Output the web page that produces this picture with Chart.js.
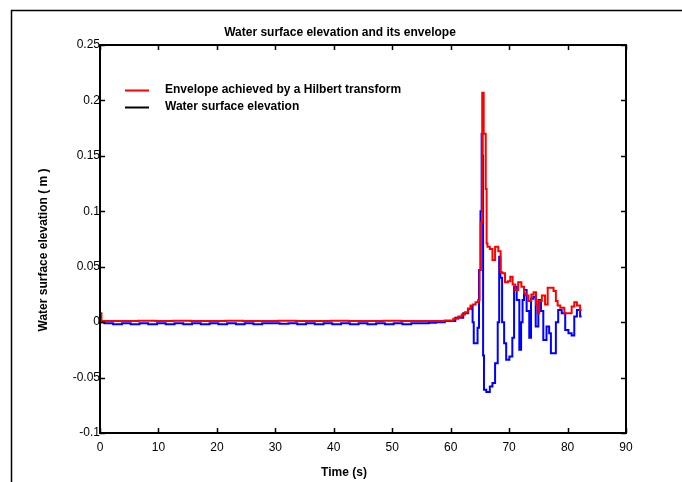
<!DOCTYPE html>
<html>
<head>
<meta charset="utf-8">
<script src="https://cdn.jsdelivr.net/npm/chart.js@4/dist/chart.umd.min.js"></script>
<style>
html,body{margin:0;padding:0;background:#fff;}
#wrap{position:absolute;left:0;top:0;width:682px;height:482px;}
</style>
</head>
<body>
<div id="wrap"><canvas id="c" width="682" height="482"></canvas></div>
<script>
const chartTitle = "Water surface elevation and its envelope";
const xTitle = "Time (s)";
const yTitle = "Water surface elevation ( m )";
const seriesNames = ["Envelope achieved by a Hilbert transform", "Water surface elevation"];
const xTicks = [0, 10, 20, 30, 40, 50, 60, 70, 80, 90];
const yTicks = [-0.1, -0.05, 0, 0.05, 0.1, 0.15, 0.2, 0.25];

const envT = [0, 0.2, 0.3, 2, 5, 8, 11, 14, 17, 20, 23, 26, 29, 32, 35, 38, 41, 44, 47, 50, 53, 56, 58, 59.9, 61, 61.6, 62.2, 62.7, 63.2, 63.6, 64.0, 64.5, 64.9, 65.0, 65.3, 65.5, 65.6, 65.7, 65.9, 66.1, 66.2, 66.4, 67.0, 67.3, 67.9, 68.4, 68.7, 69.0, 69.6, 70.0, 70.4, 70.8, 71.3, 71.8, 72.4, 72.7, 73.0, 73.6, 74.0, 74.4, 74.8, 75.0, 75.3, 75.9, 76.4, 76.8, 77.3, 77.9, 78.1, 78.5, 79.0, 79.9, 80.4, 81.0, 81.3, 81.9, 82.4];
const envY = [0.008, 0.008, 0.001, 0.001, 0.001, 0.0012, 0.001, 0.0012, 0.001, 0.001, 0.0012, 0.001, 0.001, 0.0012, 0.001, 0.001, 0.0012, 0.001, 0.001, 0.0012, 0.001, 0.001, 0.001, 0.0015, 0.003, 0.005, 0.007, 0.009, 0.012, 0.015, 0.016, 0.018, 0.02, 0.047, 0.09, 0.207, 0.207, 0.17, 0.17, 0.12, 0.071, 0.068, 0.066, 0.056, 0.068, 0.064, 0.045, 0.044, 0.036, 0.037, 0.041, 0.034, 0.029, 0.036, 0.032, 0.026, 0.024, 0.019, 0.025, 0.027, 0.016, 0.008, 0.019, 0.024, 0.016, 0.031, 0.031, 0.028, 0.019, 0.015, 0.013, 0.008, 0.008, 0.014, 0.018, 0.015, 0.011];

const wseT = [0, 1.5, 3, 4.5, 6, 7.5, 9, 10.5, 12, 13.5, 15, 16.5, 18, 19.5, 21, 22.5, 24, 25.5, 27, 28.5, 30, 31.5, 33, 34.5, 36, 37.5, 39, 40.5, 42, 43.5, 45, 46.5, 48, 49.5, 51, 52.5, 54, 55.5, 57, 58, 60, 61.6, 62.7, 63.3, 63.6, 63.9, 64.0, 64.5, 64.7, 65.0, 65.2, 65.4, 65.5, 65.6, 65.8, 66.4, 67.0, 67.3, 67.9, 68.2, 68.4, 68.6, 69.0, 69.3, 69.7, 70.4, 70.7, 71.0, 71.6, 71.9, 72.2, 72.4, 72.7, 73.3, 73.6, 73.9, 74.4, 74.7, 75.3, 75.6, 76.1, 76.7, 77.0, 77.3, 77.9, 78.1, 78.7, 79.3, 79.9, 80.4, 81.0, 81.3, 81.9, 82.4];
const wseY = [0, -0.001, -0.002, -0.001, -0.002, -0.001, -0.002, -0.001, -0.002, -0.001, -0.002, -0.001, -0.002, -0.001, -0.002, -0.001, -0.002, -0.001, -0.002, -0.001, -0.001, -0.0015, -0.001, -0.002, -0.001, -0.002, -0.001, -0.002, -0.001, -0.002, -0.001, -0.002, -0.001, -0.002, -0.001, -0.002, -0.001, -0.001, -0.0005, 0, 0.001, 0.004, 0.008, 0.012, 0.014, 0.0, -0.019, -0.019, -0.005, 0.047, 0.10, 0.170, 0.15, -0.03, -0.061, -0.063, -0.058, -0.055, -0.037, 0.0, 0.059, 0.04, 0.0, -0.019, -0.034, -0.031, -0.014, 0.032, 0.02, -0.025, 0.0, 0.02, 0.029, 0.01, -0.014, 0.021, 0.023, -0.004, 0.02, 0.01, -0.016, -0.004, -0.01, -0.028, -0.028, 0.0, 0.011, 0.008, -0.007, -0.01, -0.012, 0.005, 0.011, 0.005];

const FONT = "'Liberation Sans', Arial, sans-serif";

const decor = {
  id: 'decor',
  beforeDraw(chart) {
    const ctx = chart.ctx;
    ctx.save();
    ctx.fillStyle = '#fff';
    ctx.fillRect(0, 0, chart.width, chart.height);
    ctx.strokeStyle = '#000';
    ctx.lineWidth = 1.5;
    ctx.strokeRect(11.5, 10.5, 720, 520);
    ctx.restore();
  },
  afterDraw(chart) {
    const ctx = chart.ctx;
    const a = chart.chartArea;
    const xs = chart.scales.x, ys = chart.scales.y;
    ctx.save();
    ctx.strokeStyle = '#000';
    ctx.lineWidth = 2;
    ctx.strokeRect(a.left, a.top, a.right - a.left, a.bottom - a.top);
    ctx.lineWidth = 1.5;
    const tl = 5;
    ctx.beginPath();
    xTicks.forEach(v => {
      const px = Math.round(xs.getPixelForValue(v)) + 0.5;
      ctx.moveTo(px, a.bottom); ctx.lineTo(px, a.bottom - tl);
      ctx.moveTo(px, a.top); ctx.lineTo(px, a.top + tl);
    });
    yTicks.forEach(v => {
      const py = Math.round(ys.getPixelForValue(v)) + 0.5;
      ctx.moveTo(a.left, py); ctx.lineTo(a.left + tl, py);
      ctx.moveTo(a.right, py); ctx.lineTo(a.right - tl, py);
    });
    ctx.stroke();

    ctx.fillStyle = '#000';
    ctx.font = 'bold 12px ' + FONT;
    ctx.textAlign = 'center';
    ctx.textBaseline = 'middle';
    ctx.fillText(chartTitle, 340, 33);
    ctx.fillText(xTitle, 344, 473);
    ctx.save();
    ctx.translate(44, 250);
    ctx.rotate(-Math.PI / 2);
    ctx.fillText(yTitle, 0, 0);
    ctx.restore();

    // legend
    const colors = ['#ff0000', '#000000'];
    const ly = [90, 107];
    ctx.textAlign = 'left';
    seriesNames.forEach((n, i) => {
      ctx.strokeStyle = colors[i];
      ctx.lineWidth = 2;
      ctx.beginPath();
      ctx.moveTo(125, ly[i] + 0.5); ctx.lineTo(149, ly[i] + 0.5);
      ctx.stroke();
      ctx.fillStyle = '#000';
      ctx.fillText(n, 165, ly[i]);
    });
    ctx.restore();
  }
};

new Chart(document.getElementById('c'), {
  type: 'line',
  data: {
    datasets: [
      {
        label: seriesNames[0],
        data: envT.map((t, i) => ({ x: t, y: envY[i] })),
        borderColor: '#ff0000',
        borderWidth: 2,
        pointRadius: 0,
        stepped: 'middle',
        fill: false
      },
      {
        label: seriesNames[1],
        data: wseT.map((t, i) => ({ x: t, y: wseY[i] })),
        borderColor: '#0000ff',
        borderWidth: 2,
        pointRadius: 0,
        stepped: 'middle',
        fill: false
      }
    ]
  },
  plugins: [decor],
  options: {
    responsive: false,
    animation: false,
    devicePixelRatio: 1,
    layout: { padding: { left: 0, top: 45, right: 56, bottom: 0 } },
    plugins: { legend: { display: false }, title: { display: false }, tooltip: { enabled: false } },
    scales: {
      x: {
        type: 'linear',
        min: 0, max: 90,
        afterFit(s) { s.height = 49; },
        afterBuildTicks(s) { s.ticks = xTicks.map(v => ({ value: v })); },
        grid: { display: false, drawTicks: false },
        border: { display: false },
        ticks: { color: '#000', padding: 7, maxRotation: 0, font: { family: FONT, size: 12 }, callback: v => String(v) }
      },
      y: {
        type: 'linear',
        min: -0.1, max: 0.25,
        afterFit(s) { s.width = 100; },
        afterBuildTicks(s) { s.ticks = yTicks.map(v => ({ value: v })); },
        grid: { display: false, drawTicks: false },
        border: { display: false },
        ticks: { color: '#000', padding: 0, font: { family: FONT, size: 12 }, callback: v => String(Number(v.toFixed(2))) }
      }
    }
  }
});
</script>
</body>
</html>
